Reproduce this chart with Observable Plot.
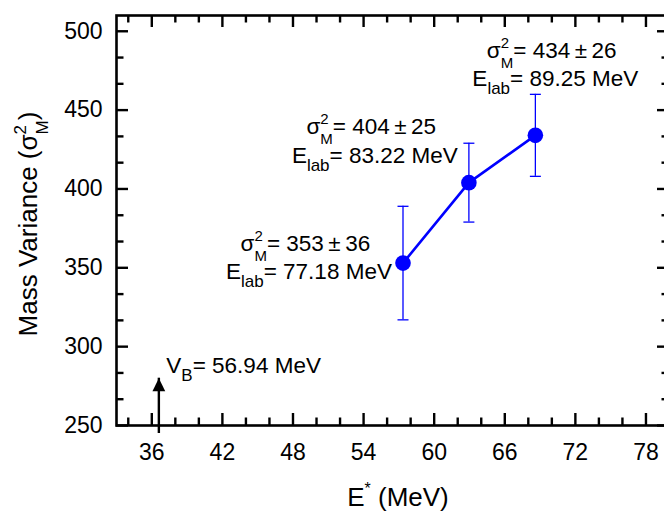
<!DOCTYPE html>
<html>
<head>
<meta charset="utf-8">
<script src="https://cdn.jsdelivr.net/npm/d3@7"></script>
<script src="https://cdn.jsdelivr.net/npm/@observablehq/plot@0.6"></script>
<style>
  html, body { margin: 0; padding: 0; background: #fff; overflow: hidden; }
  #chart svg { display: block; }
</style>
</head>
<body>
<div id="chart"></div>
<script>
// Measured mass variance versus excitation energy
const excitation = [57.35, 62.95, 68.6];      // E* (MeV)
const massVariance = [353, 404, 434];         // sigma_M^2
const varianceError = [36, 25, 26];           // ± uncertainty
const labEnergy = [77.18, 83.22, 89.25];      // E_lab (MeV)

// Coulomb barrier marker
const barrierLab = 56.94;        // V_B in the lab frame (MeV)
const barrierExcitation = 36.6;  // where the marker sits on the E* axis
const barrierMarkerTop = 280;

// Axis ticks
const xMajorTicks = [36, 42, 48, 54, 60, 66, 72, 78];
const xMinorTicks = [34, 38, 40, 44, 46, 50, 52, 56, 58, 62, 64, 68, 70, 74, 76];
const yMajorTicks = [250, 300, 350, 400, 450, 500];
const yMinorTicks = [266.67, 283.33, 316.67, 333.33, 366.67, 383.33, 416.67, 433.33, 466.67, 483.33];

const points = excitation.map((x, i) => ({
  x, y: massVariance[i], err: varianceError[i], elab: labEnergy[i]
}));

// Layout: the right-hand spine sits just past the edge of the page
const W = 664, H = 513;
const M = {top: 15, right: -5, bottom: 88, left: 116};
const innerW = W - M.left - M.right;
const innerH = H - M.top - M.bottom;
const majorLen = 12, minorLen = 7.5;
const ink = "#000";
const blue = "#0000ff";
const font = "'Liberation Sans', Arial, Helvetica, sans-serif";
const noteSize = 22.5;
const thin = "\u2009";

// annotation placement relative to each point: [line1 dx, line2 dx, line1 dy]
const labelOffsets = [[-162, -176.5, -12], [-162, -176.5, -48], [-48, -62.5, -77]];
const lineGap = 28.5;

// flat horizontal stroke used for the error-bar caps
const capSymbol = {
  draw(ctx, size) {
    const r = Math.sqrt(size / Math.PI);
    ctx.moveTo(-r, 0);
    ctx.lineTo(r, 0);
  }
};
// filled arrowhead with its tip at the anchor point
const headSymbol = {
  draw(ctx, size) {
    const r = Math.sqrt(size / Math.PI);
    ctx.moveTo(0, 0);
    ctx.lineTo(-r, 2.05 * r);
    ctx.lineTo(r, 2.05 * r);
    ctx.closePath();
  }
};

function richText(g, x, y, parts, opts = {}) {
  const t = g.append("text")
    .attr("x", x).attr("y", y)
    .attr("text-anchor", opts.anchor || "start")
    .attr("font-size", opts.size || noteSize)
    .attr("fill", ink);
  if (opts.transform) t.attr("transform", opts.transform);
  for (const p of parts) {
    const s = t.append("tspan").text(p.text);
    if (p.size) s.attr("font-size", p.size);
    if (p.dx) s.attr("dx", p.dx);
    if (p.dy) s.attr("dy", p.dy);
  }
  return t;
}

// sigma with a stacked superscript 2 and subscript M, followed by the tail text
const sigmaParts = (tail, sub = 15, shift = 10) => [
  {text: "σ"},
  {text: "2", size: sub, dy: -shift},
  {text: "M", size: sub, dx: -0.556 * sub, dy: 2 * shift},
  {text: tail, dy: -shift}
];

// Point annotations, axis titles and barrier label
function annotations(index, scales) {
  const g = d3.create("svg:g").attr("font-family", font);
  points.forEach((d, i) => {
    const px = scales.x(d.x), py = scales.y(d.y);
    const [dx1, dx2, dy1] = labelOffsets[i];
    richText(g, px + dx1, py + dy1, sigmaParts(`= ${d.y}${thin}±${thin}${d.err}`));
    richText(g, px + dx2, py + dy1 + lineGap, [
      {text: "E"},
      {text: "lab", size: 17, dy: 8},
      {text: `= ${d.elab.toFixed(2)} MeV`, dy: -8}
    ]);
  });
  const bx = scales.x(barrierExcitation), by = scales.y(barrierMarkerTop);
  richText(g, bx + 8, by - 5, [
    {text: "V"},
    {text: "B", size: 17, dy: 8},
    {text: `= ${barrierLab.toFixed(2)} MeV`, dy: -8}
  ]);
  // x-axis title
  richText(g, 398, 506, [
    {text: "E"},
    {text: "*", size: 16, dy: -12},
    {text: " (MeV)", dy: 12}
  ], {anchor: "middle", size: 26});
  // y-axis title
  richText(g, 0, 0, [
    {text: "Mass Variance ("},
    ...sigmaParts(")", 17, 11)
  ], {anchor: "middle", size: 26, transform: "translate(37,224) rotate(-90)"});
  return g.node();
}

const chart = Plot.plot({
  width: W,
  height: H,
  marginTop: M.top,
  marginRight: M.right,
  marginBottom: M.bottom,
  marginLeft: M.left,
  style: {fontFamily: font, fontSize: "23px", color: ink, background: "#fff", overflow: "hidden"},
  x: {domain: [33, 80]},
  y: {domain: [250, 510]},
  marks: [
    // tick labels
    Plot.axisX({ticks: xMajorTicks, tickSize: 0, tickPadding: 18, label: null, fontSize: 23}),
    Plot.axisY({ticks: yMajorTicks, tickSize: 0, tickPadding: 14, label: null, fontSize: 23}),
    // inward ticks on all four sides
    Plot.ruleX(xMajorTicks, {insetTop: innerH - majorLen, stroke: ink, strokeWidth: 2.4}),
    Plot.ruleX(xMajorTicks, {insetBottom: innerH - majorLen, stroke: ink, strokeWidth: 2.4}),
    Plot.ruleX(xMinorTicks, {insetTop: innerH - minorLen, stroke: ink, strokeWidth: 2.4}),
    Plot.ruleX(xMinorTicks, {insetBottom: innerH - minorLen, stroke: ink, strokeWidth: 2.4}),
    Plot.ruleY(yMajorTicks, {insetRight: innerW - majorLen, stroke: ink, strokeWidth: 2.4}),
    Plot.ruleY(yMajorTicks, {insetLeft: innerW - majorLen, stroke: ink, strokeWidth: 2.4}),
    Plot.ruleY(yMinorTicks, {insetRight: innerW - minorLen, stroke: ink, strokeWidth: 2.4}),
    Plot.ruleY(yMinorTicks, {insetLeft: innerW - minorLen, stroke: ink, strokeWidth: 2.4}),
    Plot.frame({stroke: ink, strokeWidth: 2.6}),
    // barrier arrow
    Plot.ruleX([barrierExcitation], {y1: 250, y2: barrierMarkerTop, insetTop: 8, stroke: ink, strokeWidth: 2.4}),
    Plot.dot([barrierExcitation], {x: d => d, y: barrierMarkerTop, symbol: headSymbol, r: 6.4, fill: ink, stroke: "none"}),
    // error bars
    Plot.ruleX(points, {x: "x", y1: d => d.y - d.err, y2: d => d.y + d.err, stroke: blue, strokeWidth: 1.3}),
    Plot.dot(points, {x: "x", y: d => d.y + d.err, symbol: capSymbol, r: 5.5, stroke: blue, strokeWidth: 1.3, fill: "none"}),
    Plot.dot(points, {x: "x", y: d => d.y - d.err, symbol: capSymbol, r: 5.5, stroke: blue, strokeWidth: 1.3, fill: "none"}),
    // data
    Plot.line(points, {x: "x", y: "y", stroke: blue, strokeWidth: 2.6}),
    Plot.dot(points, {x: "x", y: "y", r: 7.8, fill: blue, stroke: "none"}),
    annotations
  ]
});

document.getElementById("chart").append(chart);
</script>
</body>
</html>
